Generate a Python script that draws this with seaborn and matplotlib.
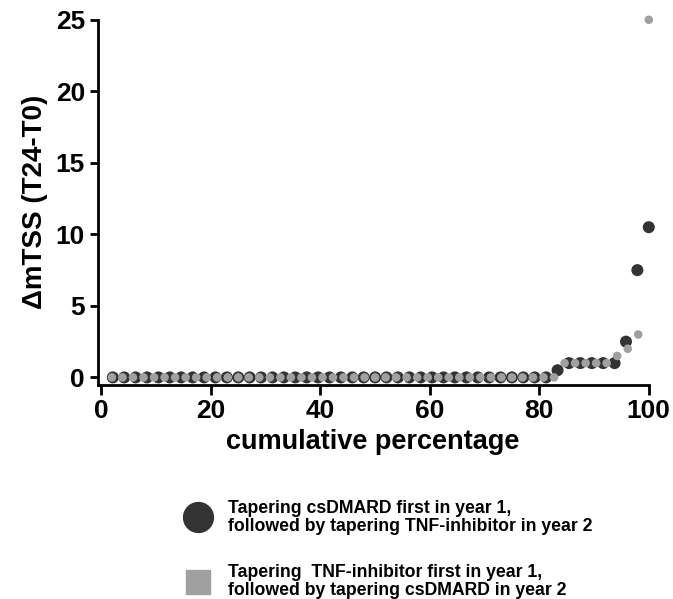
import numpy as np
import pandas as pd
import matplotlib.pyplot as plt
import seaborn as sns
from matplotlib.lines import Line2D

# delta mTSS per patient, sorted, for each tapering strategy
csdmard_first = [0] * 39 + [0.5, 1, 1, 1, 1, 1, 2.5, 7.5, 10.5]
tnf_first = [0] * 43 + [1, 1, 1, 1, 1, 1.5, 2, 3, 25]

label_a = "Tapering csDMARD first in year 1,\nfollowed by tapering TNF-inhibitor in year 2"
label_b = "Tapering  TNF-inhibitor first in year 1,\nfollowed by tapering csDMARD in year 2"

df_a = pd.DataFrame({"dmtss": csdmard_first})
df_a["pct"] = 100 * np.arange(1, len(df_a) + 1) / len(df_a)
df_b = pd.DataFrame({"dmtss": tnf_first})
df_b["pct"] = 100 * np.arange(1, len(df_b) + 1) / len(df_b)

sns.set_style("ticks")
plt.rcParams["font.family"] = ["Liberation Sans", "DejaVu Sans"]
plt.rcParams["font.weight"] = "bold"
plt.rcParams["axes.labelweight"] = "bold"
plt.rcParams["text.color"] = "black"
plt.rcParams["axes.labelcolor"] = "black"
plt.rcParams["xtick.color"] = "black"
plt.rcParams["ytick.color"] = "black"
plt.rcParams["axes.edgecolor"] = "black"

dark = "#333333"
grey = "#a0a0a0"

fig = plt.figure(figsize=(6.73, 5.99), dpi=100)
ax = fig.add_axes([0.145, 0.358, 0.819, 0.609])

sns.scatterplot(data=df_a, x="pct", y="dmtss", color=dark, s=75, edgecolor="none",
                ax=ax, zorder=2, clip_on=False)
sns.scatterplot(data=df_b, x="pct", y="dmtss", color=grey, s=38, edgecolor="none",
                ax=ax, zorder=3, clip_on=False)

ax.set_xlim(-0.7, 100)
ax.set_ylim(-0.5, 25)
ax.set_xticks([0, 20, 40, 60, 80, 100])
ax.set_yticks([0, 5, 10, 15, 20, 25])
ax.set_xlabel("cumulative percentage", fontsize=19.5, labelpad=4)
ax.set_ylabel("ΔmTSS (T24-T0)", fontsize=20, labelpad=6)
ax.tick_params(width=2, labelsize=19, pad=3)
ax.tick_params(axis="x", length=7.5)
ax.tick_params(axis="y", length=6)
for side in ["left", "bottom"]:
    ax.spines[side].set_linewidth(2)
sns.despine(ax=ax)

handles = [
    Line2D([0], [0], marker="o", ls="", color=dark, markersize=21.5),
    Line2D([0], [0], marker="s", ls="", color=grey, markersize=17),
]
leg = fig.legend(handles, [label_a, label_b], loc="upper left",
                 bbox_to_anchor=(0.2675, 0.166), frameon=False, fontsize=12.7,
                 handlelength=2, handletextpad=0.72, labelspacing=1.65,
                 borderpad=0, borderaxespad=0)
for t in leg.get_texts():
    t.set_linespacing(1.08)

fig.savefig("out.png", dpi=100)
plt.close()
